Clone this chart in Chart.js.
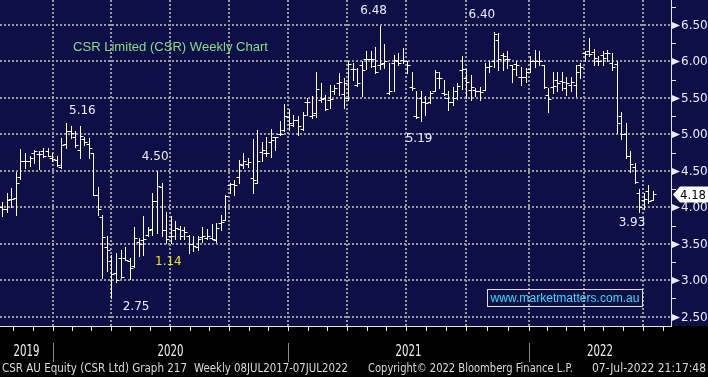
<!DOCTYPE html>
<html lang="en">
<head>
<meta charset="UTF-8">
<title>CSR Weekly Chart</title>
<script src="https://cdn.jsdelivr.net/npm/chart.js"></script>
<style>
  html, body { margin: 0; padding: 0; background: #000; }
</style>
</head>
<body>
<canvas id="csrChart" width="708" height="377"></canvas>
<script>
// Weekly OHLC, index 0 = first visible week (Oct 2019), last = week of 07-Jul-2022
const opens = [
  4.01, 3.98, 4.11, 4.13, 4.41, 4.63, 4.63, 4.74, 4.73, 4.77,
  4.77, 4.68, 4.65, 4.55, 4.87, 5.04, 4.96, 4.78, 4.93, 4.87,
  4.74, 4.17, 3.87, 3.46, 3.26, 3.10, 3.30, 3.30, 3.26, 3.20,
  3.53, 3.55, 3.62, 3.70, 4.08, 4.28, 3.69, 3.60, 3.69, 3.70,
  3.69, 3.60, 3.49, 3.45, 3.59, 3.58, 3.58, 3.55, 3.79, 3.83,
  4.31, 4.32, 4.41, 4.58, 4.60, 4.40, 4.33, 4.76, 4.74, 4.90,
  4.96, 5.01, 5.06, 5.24, 5.13, 5.20, 5.07, 5.44, 5.25, 5.30,
  5.47, 5.50, 5.47, 5.60, 5.70, 5.56, 5.50, 5.90, 5.68, 5.95,
  6.03, 6.03, 5.94, 5.95, 5.98, 5.57, 5.98, 6.00, 6.02, 6.00,
  5.65, 5.25, 5.50, 5.45, 5.45, 5.60, 5.77, 5.57, 5.50, 5.45,
  5.60, 5.88, 5.77, 5.61, 5.61, 5.60, 5.61, 5.93, 6.00, 6.30,
  6.09, 6.04, 5.95, 5.97, 5.79, 5.79, 5.90, 6.00, 6.01, 5.95,
  5.54, 5.65, 5.75, 5.73, 5.63, 5.68, 5.68, 5.95, 6.12, 6.15,
  6.13, 6.01, 6.09, 6.11, 5.98, 5.96, 5.25, 5.00, 4.70, 4.55,
  4.20, 4.10, 4.22, 4.10
];
const highs = [
  4.07, 4.19, 4.26, 4.48, 4.80, 4.75, 4.70, 4.79, 4.77, 4.82,
  4.82, 4.75, 4.70, 4.95, 5.16, 5.12, 5.05, 5.11, 4.97, 4.95,
  4.75, 4.28, 3.89, 3.60, 3.35, 3.37, 3.42, 3.46, 3.30, 3.73,
  3.58, 3.88, 3.73, 4.19, 4.50, 4.33, 3.94, 3.88, 3.81, 3.75,
  3.73, 3.62, 3.60, 3.61, 3.73, 3.70, 3.77, 3.78, 3.90, 4.17,
  4.33, 4.38, 4.65, 4.74, 4.68, 4.93, 5.06, 4.89, 4.96, 5.07,
  4.97, 5.19, 5.42, 5.35, 5.27, 5.25, 5.31, 5.50, 5.52, 5.86,
  5.71, 5.54, 5.68, 5.68, 5.84, 5.77, 6.00, 5.98, 5.91, 6.00,
  6.15, 6.14, 6.20, 6.48, 6.24, 5.98, 6.09, 6.12, 6.18, 6.00,
  5.86, 5.59, 5.59, 5.52, 5.59, 5.88, 5.86, 5.75, 5.60, 5.65,
  5.70, 6.08, 5.90, 5.81, 5.64, 5.65, 5.98, 6.00, 6.40, 6.39,
  6.11, 6.14, 5.95, 6.00, 5.93, 5.91, 6.07, 6.16, 6.14, 5.95,
  5.63, 5.86, 5.86, 5.86, 5.79, 5.79, 5.95, 5.98, 6.14, 6.32,
  6.17, 6.07, 6.14, 6.16, 6.11, 6.00, 5.31, 5.15, 4.77, 4.61,
  4.25, 4.19, 4.31, 4.22
];
const lows = [
  3.88, 3.94, 4.01, 3.90, 4.39, 4.54, 4.56, 4.61, 4.53, 4.69,
  4.70, 4.63, 4.56, 4.54, 4.81, 4.95, 4.83, 4.68, 4.86, 4.68,
  4.17, 3.90, 3.03, 3.12, 2.75, 2.98, 3.03, 3.28, 3.01, 3.18,
  3.33, 3.35, 3.60, 3.62, 3.65, 3.60, 3.51, 3.51, 3.56, 3.56,
  3.56, 3.37, 3.40, 3.42, 3.53, 3.56, 3.56, 3.52, 3.69, 3.83,
  4.19, 4.17, 4.34, 4.54, 4.55, 4.19, 4.33, 4.63, 4.70, 4.69,
  4.79, 4.99, 5.04, 5.06, 5.12, 4.99, 5.06, 5.26, 5.22, 5.24,
  5.45, 5.34, 5.36, 5.56, 5.54, 5.36, 5.47, 5.75, 5.66, 5.53,
  5.89, 5.93, 5.84, 5.89, 5.91, 5.56, 5.59, 5.95, 5.98, 5.84,
  5.61, 5.22, 5.19, 5.27, 5.43, 5.59, 5.63, 5.54, 5.33, 5.40,
  5.48, 5.62, 5.50, 5.47, 5.52, 5.47, 5.61, 5.86, 5.93, 5.88,
  5.88, 5.91, 5.72, 5.82, 5.68, 5.72, 5.86, 5.93, 5.95, 5.63,
  5.31, 5.57, 5.59, 5.61, 5.54, 5.59, 5.52, 5.77, 6.00, 6.07,
  5.95, 5.95, 5.95, 6.00, 5.88, 5.02, 4.93, 4.67, 4.49, 4.34,
  3.94, 3.97, 4.06, 4.10
];
const closes = [
  3.97, 4.10, 4.11, 4.34, 4.63, 4.63, 4.68, 4.77, 4.73, 4.70,
  4.70, 4.66, 4.58, 4.86, 5.04, 5.02, 4.86, 4.98, 4.89, 4.82,
  4.17, 3.98, 3.59, 3.42, 3.08, 3.00, 3.05, 3.28, 3.17, 3.58,
  3.49, 3.56, 3.69, 4.08, 4.29, 3.69, 3.56, 3.60, 3.72, 3.60,
  3.66, 3.49, 3.47, 3.56, 3.60, 3.60, 3.56, 3.72, 3.80, 4.15,
  4.32, 4.31, 4.60, 4.63, 4.62, 4.38, 4.63, 4.79, 4.74, 4.92,
  4.97, 5.01, 5.25, 5.15, 5.20, 5.11, 5.27, 5.45, 5.27, 5.62,
  5.48, 5.35, 5.49, 5.64, 5.72, 5.70, 5.96, 5.90, 5.70, 5.88,
  6.03, 6.03, 5.86, 5.96, 6.00, 5.59, 6.02, 5.98, 6.00, 5.95,
  5.63, 5.24, 5.45, 5.43, 5.57, 5.86, 5.77, 5.56, 5.45, 5.50,
  5.66, 5.90, 5.72, 5.65, 5.60, 5.58, 5.93, 5.94, 6.38, 6.04,
  6.07, 6.04, 5.90, 5.95, 5.79, 5.85, 6.00, 6.00, 6.00, 5.65,
  5.48, 5.66, 5.70, 5.72, 5.70, 5.72, 5.85, 5.93, 6.10, 6.10,
  6.05, 6.00, 6.05, 6.12, 5.92, 5.15, 5.00, 4.70, 4.60, 4.35,
  4.00, 4.12, 4.08, 4.18
];

// right axis labels
const priceTicks = [2.5, 3.0, 3.5, 4.0, 4.5, 5.0, 5.5, 6.0, 6.5];
// quarter grid lines (in weeks from the first bar)
const quarterLines = [11.1, 23.8, 36.9, 49.8, 62.8, 75.8, 88.7, 101.9, 115.8, 127.8, 140.8];
// year labels and where each year starts
const years = ['2019', '2020', '2021', '2022'];
const yearStarts = [null, 11.1, 62.8, 115.8];
// hand written labels on the chart
const callouts = [
  { text: '5.16', week: 17.6, price: 5.32 },
  { text: '4.50', week: 33.6, price: 4.69 },
  { text: '2.75', week: 29.4, price: 2.63 },
  { text: '1.14', week: 36.5, price: 3.25, color: '#e4e41c' },
  { text: '6.48', week: 81.6, price: 6.69 },
  { text: '6.40', week: 105.4, price: 6.64 },
  { text: '5.19', week: 91.6, price: 4.94 },
  { text: '3.93', week: 138.4, price: 3.78 }
];
const lastPrice = closes[closes.length - 1];

const NAVY = '#0f0f48';
const GRID = '#9a9a9a';
const LABEL = '#e8eeff';

// draw text squeezed/stretched to a given width
function fitText(ctx, text, x, y, w, align) {
  const m = ctx.measureText(text).width;
  ctx.save();
  ctx.translate(x, y);
  ctx.scale(w / m, 1);
  ctx.textAlign = align || 'left';
  ctx.fillText(text, 0, 0);
  ctx.restore();
}

const ohlcPlugin = {
  id: 'ohlc',
  beforeDraw(chart) {
    const { ctx, chartArea } = chart;
    ctx.save();
    ctx.fillStyle = '#000';
    ctx.fillRect(0, 0, chart.width, chart.height);
    ctx.fillStyle = NAVY;
    ctx.fillRect(0, 0, chart.width, chartArea.bottom);
    ctx.restore();
  },
  afterDraw(chart) {
    const { ctx, chartArea } = chart;
    const xs = chart.scales.x, ys = chart.scales.y;

    // bars
    ctx.save();
    ctx.strokeStyle = '#ffffff';
    ctx.lineWidth = 1;
    ctx.beginPath();
    for (let i = 0; i < closes.length; i++) {
      const x = Math.round(xs.getPixelForValue(i)) + 0.5;
      const yh = Math.round(ys.getPixelForValue(highs[i]));
      const yl = Math.round(ys.getPixelForValue(lows[i]));
      const yo = Math.round(ys.getPixelForValue(opens[i])) + 0.5;
      const yc = Math.round(ys.getPixelForValue(closes[i])) + 0.5;
      ctx.moveTo(x, yh); ctx.lineTo(x, yl + 1);
      ctx.moveTo(x - 3, yo); ctx.lineTo(x, yo);
      ctx.moveTo(x, yc); ctx.lineTo(x + 3, yc);
    }
    ctx.stroke();
    ctx.restore();

    // axis lines
    ctx.save();
    ctx.strokeStyle = '#e6e6e6';
    ctx.lineWidth = 1;
    ctx.beginPath();
    ctx.moveTo(chartArea.right + 0.5, 0);
    ctx.lineTo(chartArea.right + 0.5, chartArea.bottom + 1);
    ctx.moveTo(0, chartArea.bottom + 0.5);
    ctx.lineTo(chartArea.right + 1, chartArea.bottom + 0.5);
    // monthly ticks under the plot
    for (let q = -1; q < quarterLines.length; q++) {
      const a = q < 0 ? quarterLines[0] - 13 : quarterLines[q];
      const b = q < quarterLines.length - 1 ? quarterLines[q + 1] : a + 13;
      for (let j = 0; j < 3; j++) {
        const v = a + (b - a) * j / 3;
        if (v < xs.min || v > xs.max) continue;
        const x = Math.round(xs.getPixelForValue(v)) + 0.5;
        ctx.moveTo(x, chartArea.bottom);
        ctx.lineTo(x, chartArea.bottom + 5);
      }
    }
    // minor ticks on the price axis
    priceTicks.forEach(v => {
      const y = Math.round(ys.getPixelForValue(v + 0.25)) + 0.5;
      if (y < 0) return;
      ctx.moveTo(chartArea.right, y);
      ctx.lineTo(chartArea.right + 5, y);
    });
    ctx.stroke();

    // price labels with arrow markers
    ctx.font = '12px "DejaVu Sans", sans-serif';
    ctx.textBaseline = 'middle';
    ctx.fillStyle = LABEL;
    priceTicks.forEach(v => {
      const y = Math.round(ys.getPixelForValue(v));
      ctx.beginPath();
      ctx.moveTo(chartArea.right + 1, y - 3);
      ctx.lineTo(chartArea.right + 9, y + 0.5);
      ctx.lineTo(chartArea.right + 1, y + 4);
      ctx.closePath();
      ctx.fill();
      ctx.fillText(v.toFixed(2), chartArea.right + 10, y + 1);
    });

    // last price box
    const yl = Math.round(ys.getPixelForValue(lastPrice)) + 0.5;
    const bx = chartArea.right + 2;
    ctx.beginPath();
    ctx.moveTo(bx, yl);
    ctx.lineTo(bx + 7, yl - 8);
    ctx.lineTo(chart.width, yl - 8);
    ctx.lineTo(chart.width, yl + 8);
    ctx.lineTo(bx + 7, yl + 8);
    ctx.closePath();
    ctx.fillStyle = '#ffffff';
    ctx.fill();
    ctx.fillStyle = '#000000';
    fitText(ctx, lastPrice.toFixed(2), bx + 7, yl + 1, 26, 'left');

    // callouts
    ctx.textAlign = 'center';
    callouts.forEach(c => {
      ctx.fillStyle = c.color || LABEL;
      ctx.fillText(c.text, xs.getPixelForValue(c.week), ys.getPixelForValue(c.price));
    });

    // title
    ctx.font = '13px "Liberation Sans", Arial, sans-serif';
    ctx.fillStyle = '#84dc88';
    fitText(ctx, 'CSR Limited (CSR) Weekly Chart', 73, 47, 195, 'left');

    // website box
    ctx.strokeStyle = '#e0e0e0';
    ctx.strokeRect(487.5, 289.5, 155, 17);
    ctx.font = '12px "Liberation Sans", Arial, sans-serif';
    ctx.fillStyle = '#34dcf4';
    fitText(ctx, 'www.marketmatters.com.au', 565, 298.5, 149, 'center');

    // year row
    ctx.font = '15px "Liberation Sans Narrow", "DejaVu Sans Condensed", sans-serif';
    ctx.fillStyle = '#f2f2f2';
    ctx.strokeStyle = '#8a8a8a';
    years.forEach((yr, i) => {
      const start = yearStarts[i] === null ? xs.min : yearStarts[i];
      const end = i < years.length - 1 ? yearStarts[i + 1] : xs.max;
      const x0 = xs.getPixelForValue(start), x1 = xs.getPixelForValue(end);
      fitText(ctx, yr, (x0 + x1) / 2, 352, 26, 'center');
      if (yearStarts[i] !== null) {
        const x = Math.round(x0) + 0.5;
        ctx.beginPath();
        ctx.moveTo(x, 343);
        ctx.lineTo(x, 362);
        ctx.stroke();
      }
    });

    // footer
    ctx.font = '12px "Liberation Sans Narrow", "DejaVu Sans Condensed", sans-serif';
    ctx.fillStyle = '#dadada';
    fitText(ctx, 'CSR AU Equity (CSR Ltd) Graph 217', 2, 369, 185, 'left');
    fitText(ctx, 'Weekly 08JUL2017-07JUL2022', 194, 369, 154, 'left');
    fitText(ctx, 'Copyright\u00A9 2022 Bloomberg Finance L.P.', 368, 369, 205, 'left');
    fitText(ctx, '07-Jul-2022 21:17:48', 592, 369, 114, 'left');
    ctx.restore();
  }
};

new Chart(document.getElementById('csrChart'), {
  type: 'scatter',
  data: { datasets: [] },
  options: {
    responsive: false,
    animation: false,
    devicePixelRatio: 1,
    layout: { padding: 0 },
    plugins: { legend: { display: false }, tooltip: { enabled: false } },
    scales: {
      x: {
        type: 'linear',
        min: -0.505,
        max: 146.97,
        afterBuildTicks: s => { s.ticks = quarterLines.map(v => ({ value: v })); },
        afterFit: s => { s.height = 51; },
        ticks: { display: false },
        grid: { color: GRID, lineWidth: 2, drawTicks: false },
        border: { display: false, dash: [2, 2] }
      },
      y: {
        position: 'right',
        min: 2.372,
        max: 6.843,
        afterBuildTicks: s => { s.ticks = priceTicks.map(v => ({ value: v })); },
        afterFit: s => { s.width = 37; },
        ticks: { display: false },
        grid: { color: GRID, lineWidth: 2, drawTicks: false },
        border: { display: false, dash: [2, 2] }
      }
    }
  },
  plugins: [ohlcPlugin]
});
</script>
</body>
</html>
